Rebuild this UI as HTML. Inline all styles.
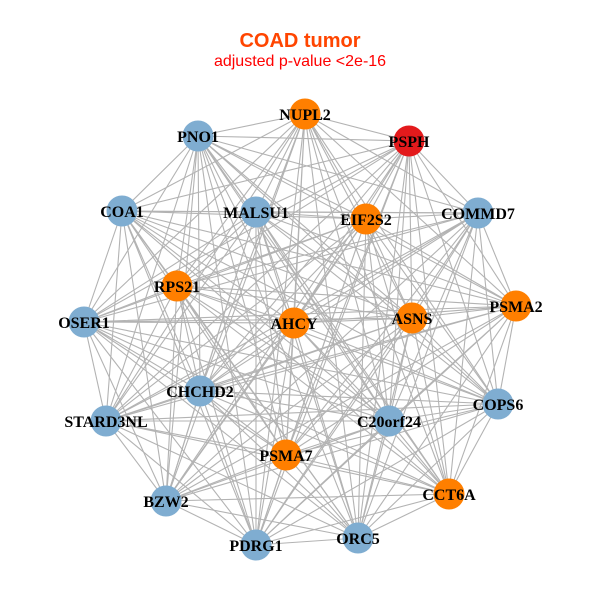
<!DOCTYPE html>
<html><head><meta charset="utf-8"><style>
html,body{margin:0;padding:0;background:#fff;width:600px;height:600px;overflow:hidden}
svg{display:block}
.e path{fill:none;stroke:#b3b3b3;stroke-width:1.1;stroke-linejoin:round}
.l text{font-family:"Liberation Serif",serif;font-weight:bold;font-size:16px;fill:#000;text-anchor:middle}
</style></head><body>
<svg width="600" height="600" viewBox="0 0 600 600" xmlns="http://www.w3.org/2000/svg">
<rect width="600" height="600" fill="#fff"/>
<text x="300" y="47" text-anchor="middle" font-family="Liberation Sans, sans-serif" font-weight="bold" font-size="20" fill="#ff4500">COAD tumor</text>
<text x="300" y="66" text-anchor="middle" font-family="Liberation Sans, sans-serif" font-size="16" fill="#ff0000">adjusted p-value &lt;2e-16</text>
<g class="e">
<path d="M305 114 409 141 305 114 198 136 305 114 122 211 305 114 256 212 305 114 366 219 305 114 478 213 305 114 177 286 305 114 516 306 305 114 84 322 305 114 294 323 305 114 412 318 305 114 200 391 305 114 498 404 305 114 106 421 305 114 389 421 305 114 286 455 305 114 449 494 305 114 166 501 305 114 256 545 305 114 358 538"/>
<path d="M409 141 198 136 409 141 122 211 409 141 256 212 409 141 366 219 409 141 478 213 409 141 177 286 409 141 516 306 409 141 84 322 409 141 294 323 409 141 412 318 409 141 200 391 409 141 498 404 409 141 106 421 409 141 389 421 409 141 286 455 409 141 449 494 409 141 166 501 409 141 256 545 409 141 358 538"/>
<path d="M198 136 122 211 198 136 256 212 198 136 366 219 198 136 478 213 198 136 177 286 198 136 516 306 198 136 84 322 198 136 294 323 198 136 412 318 198 136 200 391 198 136 498 404 198 136 106 421 198 136 389 421 198 136 286 455 198 136 449 494 198 136 166 501 198 136 256 545 198 136 358 538"/>
<path d="M122 211 256 212 122 211 366 219 122 211 478 213 122 211 177 286 122 211 516 306 122 211 84 322 122 211 294 323 122 211 412 318 122 211 200 391 122 211 498 404 122 211 106 421 122 211 389 421 122 211 286 455 122 211 449 494 122 211 166 501 122 211 256 545 122 211 358 538"/>
<path d="M256 212 366 219 256 212 478 213 256 212 177 286 256 212 516 306 256 212 84 322 256 212 294 323 256 212 412 318 256 212 200 391 256 212 498 404 256 212 106 421 256 212 389 421 256 212 286 455 256 212 449 494 256 212 166 501 256 212 256 545 256 212 358 538"/>
<path d="M366 219 478 213 366 219 177 286 366 219 516 306 366 219 84 322 366 219 294 323 366 219 412 318 366 219 200 391 366 219 498 404 366 219 106 421 366 219 389 421 366 219 286 455 366 219 449 494 366 219 166 501 366 219 256 545 366 219 358 538"/>
<path d="M478 213 177 286 478 213 516 306 478 213 84 322 478 213 294 323 478 213 412 318 478 213 200 391 478 213 498 404 478 213 106 421 478 213 389 421 478 213 286 455 478 213 449 494 478 213 166 501 478 213 256 545 478 213 358 538"/>
<path d="M177 286 516 306 177 286 84 322 177 286 294 323 177 286 412 318 177 286 200 391 177 286 498 404 177 286 106 421 177 286 389 421 177 286 286 455 177 286 449 494 177 286 166 501 177 286 256 545 177 286 358 538"/>
<path d="M516 306 84 322 516 306 294 323 516 306 412 318 516 306 200 391 516 306 498 404 516 306 106 421 516 306 389 421 516 306 286 455 516 306 449 494 516 306 166 501 516 306 256 545 516 306 358 538"/>
<path d="M84 322 294 323 84 322 412 318 84 322 200 391 84 322 498 404 84 322 106 421 84 322 389 421 84 322 286 455 84 322 449 494 84 322 166 501 84 322 256 545 84 322 358 538"/>
<path d="M294 323 412 318 294 323 200 391 294 323 498 404 294 323 106 421 294 323 389 421 294 323 286 455 294 323 449 494 294 323 166 501 294 323 256 545 294 323 358 538"/>
<path d="M412 318 200 391 412 318 498 404 412 318 106 421 412 318 389 421 412 318 286 455 412 318 449 494 412 318 166 501 412 318 256 545 412 318 358 538"/>
<path d="M200 391 498 404 200 391 106 421 200 391 389 421 200 391 286 455 200 391 449 494 200 391 166 501 200 391 256 545 200 391 358 538"/>
<path d="M498 404 106 421 498 404 389 421 498 404 286 455 498 404 449 494 498 404 166 501 498 404 256 545 498 404 358 538"/>
<path d="M106 421 389 421 106 421 286 455 106 421 449 494 106 421 166 501 106 421 256 545 106 421 358 538"/>
<path d="M389 421 286 455 389 421 449 494 389 421 166 501 389 421 256 545 389 421 358 538"/>
<path d="M286 455 449 494 286 455 166 501 286 455 256 545 286 455 358 538"/>
<path d="M449 494 166 501 449 494 256 545 449 494 358 538"/>
<path d="M166 501 256 545 166 501 358 538"/>
<path d="M256 545 358 538"/>
</g>
<g>
<circle cx="305" cy="114" r="15.5" fill="#ff7f00"/>
<circle cx="409" cy="141" r="15.5" fill="#e31a1c"/>
<circle cx="198" cy="136" r="15.5" fill="#7fadd1"/>
<circle cx="122" cy="211" r="15.5" fill="#7fadd1"/>
<circle cx="256" cy="212" r="15.5" fill="#7fadd1"/>
<circle cx="366" cy="219" r="15.5" fill="#ff7f00"/>
<circle cx="478" cy="213" r="15.5" fill="#7fadd1"/>
<circle cx="177" cy="286" r="15.5" fill="#ff7f00"/>
<circle cx="516" cy="306" r="15.5" fill="#ff7f00"/>
<circle cx="84" cy="322" r="15.5" fill="#7fadd1"/>
<circle cx="294" cy="323" r="15.5" fill="#ff7f00"/>
<circle cx="412" cy="318" r="15.5" fill="#ff7f00"/>
<circle cx="200" cy="391" r="15.5" fill="#7fadd1"/>
<circle cx="498" cy="404" r="15.5" fill="#7fadd1"/>
<circle cx="106" cy="421" r="15.5" fill="#7fadd1"/>
<circle cx="389" cy="421" r="15.5" fill="#7fadd1"/>
<circle cx="286" cy="455" r="15.5" fill="#ff7f00"/>
<circle cx="449" cy="494" r="15.5" fill="#ff7f00"/>
<circle cx="166" cy="501" r="15.5" fill="#7fadd1"/>
<circle cx="256" cy="545" r="15.5" fill="#7fadd1"/>
<circle cx="358" cy="538" r="15.5" fill="#7fadd1"/>
</g>
<g class="l">
<text x="305" y="120">NUPL2</text>
<text x="409" y="147">PSPH</text>
<text x="198" y="142">PNO1</text>
<text x="122" y="217">COA1</text>
<text x="256" y="218">MALSU1</text>
<text x="366" y="225">EIF2S2</text>
<text x="478" y="219">COMMD7</text>
<text x="177" y="292">RPS21</text>
<text x="516" y="312">PSMA2</text>
<text x="84" y="328">OSER1</text>
<text x="294" y="329">AHCY</text>
<text x="412" y="324">ASNS</text>
<text x="200" y="397">CHCHD2</text>
<text x="498" y="410">COPS6</text>
<text x="106" y="427">STARD3NL</text>
<text x="389" y="427">C20orf24</text>
<text x="286" y="461">PSMA7</text>
<text x="449" y="500">CCT6A</text>
<text x="166" y="507">BZW2</text>
<text x="256" y="551">PDRG1</text>
<text x="358" y="544">ORC5</text>
</g>
</svg>
</body></html>
